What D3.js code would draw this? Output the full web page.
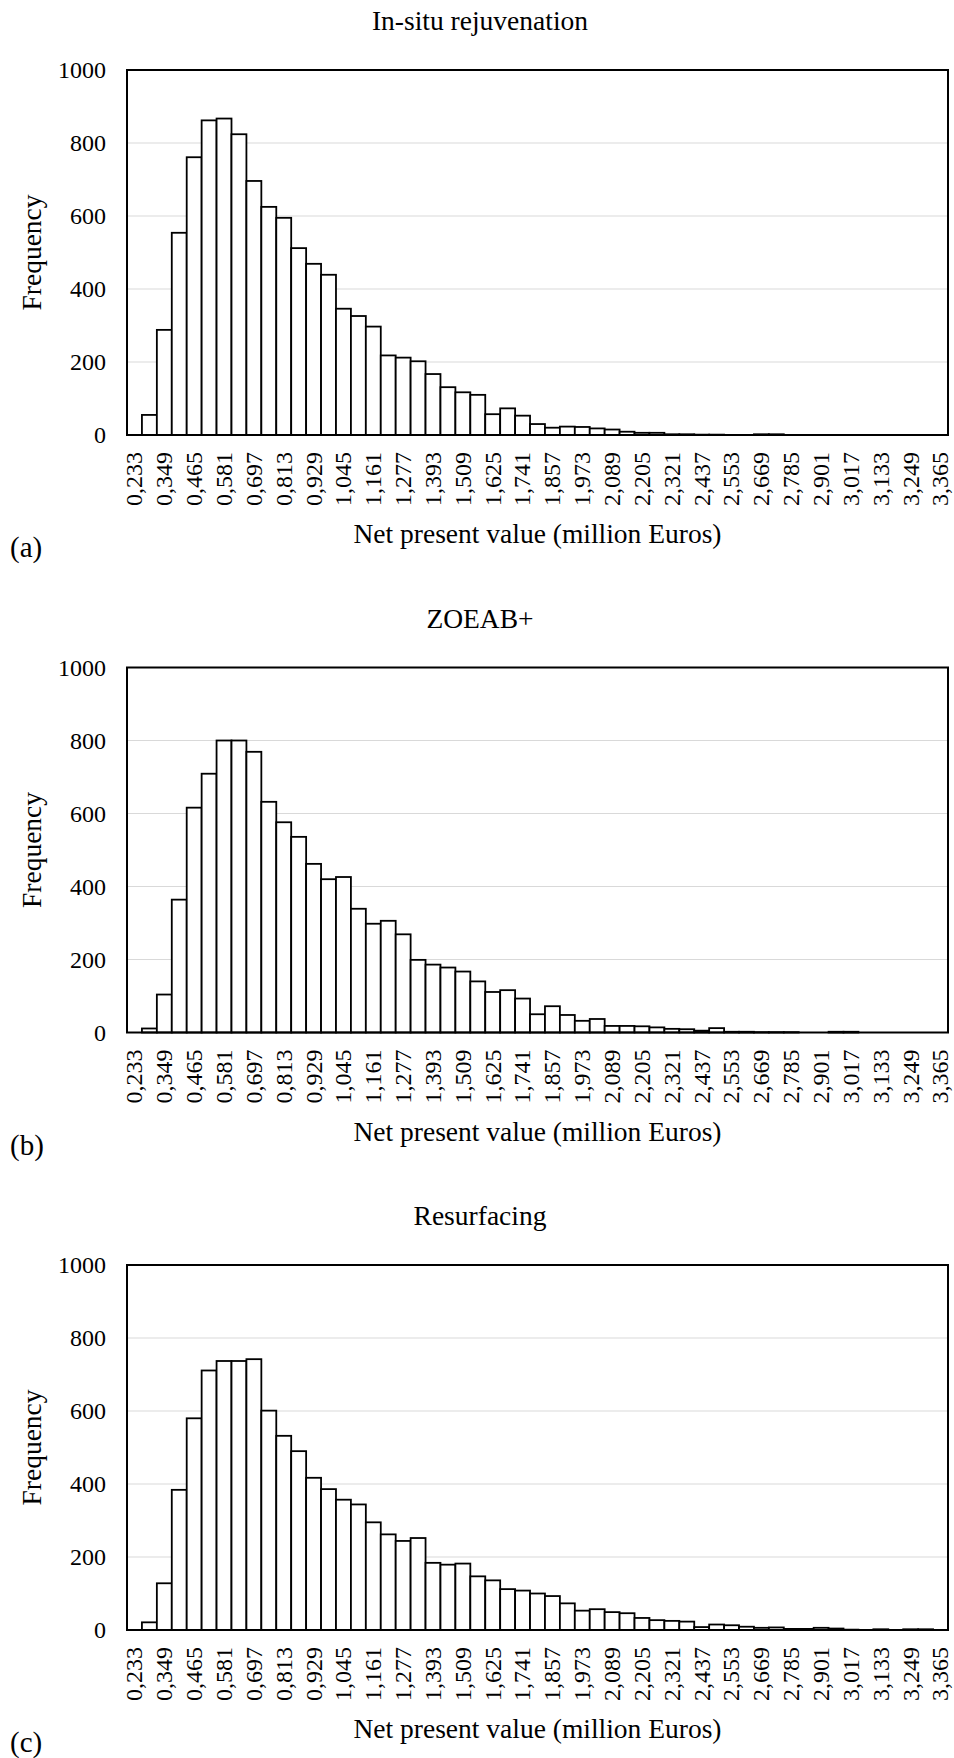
<!DOCTYPE html>
<html>
<head>
<meta charset="utf-8">
<script src="https://cdn.jsdelivr.net/npm/d3@7"></script>
<style>
  body { margin: 0; background: #fff; }
  svg text { font-family: "Liberation Serif", "Times New Roman", serif; fill: #000; }
</style>
</head>
<body>
<div id="chart"></div>
<script>
// histogram bins (NPV, million Euros)
const bins = ["0,233","0,291","0,349","0,407","0,465","0,523","0,581","0,639","0,697","0,755",
  "0,813","0,871","0,929","0,987","1,045","1,103","1,161","1,219","1,277","1,335",
  "1,393","1,451","1,509","1,567","1,625","1,683","1,741","1,799","1,857","1,915",
  "1,973","2,031","2,089","2,147","2,205","2,263","2,321","2,379","2,437","2,495",
  "2,553","2,611","2,669","2,727","2,785","2,843","2,901","2,959","3,017","3,075",
  "3,133","3,191","3,249","3,307","3,365"];

const insitu = [0,55,288,554,761,862,867,824,696,625,
  595,512,469,439,346,326,297,218,212,202,
  167,131,117,110,57,73,53,30,20,23,
  22,18,15,9,6,6,2,2,1,1,
  0,0,2,2,0,0,0,0,0,0,
  0,0,0,0,0];

const zoeab = [0,11,104,364,616,709,800,800,769,632,
  576,536,462,420,426,339,298,306,269,199,
  186,178,167,140,111,116,93,50,72,48,
  32,37,18,18,17,14,10,9,5,12,
  2,2,1,1,1,0,0,2,2,0,
  0,0,0,0,0];

const resurfacing = [0,21,128,384,580,711,737,737,742,601,
  532,490,417,386,357,344,295,262,244,252,
  184,179,182,147,136,112,108,100,93,73,
  53,57,49,46,33,27,25,23,8,15,
  13,9,6,7,3,3,6,4,1,0,
  2,0,2,2,0];

const yTicks = [0, 200, 400, 600, 800, 1000];

const panels = [
  {title: "In-situ rejuvenation", tag: "(a)", values: insitu},
  {title: "ZOEAB+", tag: "(b)", values: zoeab},
  {title: "Resurfacing", tag: "(c)", values: resurfacing}
];

const width = 954, height = 1758;
const left = 127, right = 948, plotH = 365, pitch = 597.5, firstTop = 70;

const svg = d3.select("#chart").append("svg")
  .attr("width", width)
  .attr("height", height);

const x = d3.scaleBand().domain(bins).range([left, right]).paddingInner(0).paddingOuter(0);

panels.forEach((p, i) => {
  const top = firstTop + i * pitch;
  const bottom = top + plotH;
  const y = d3.scaleLinear().domain([0, 1000]).range([bottom, top]);
  const g = svg.append("g");

  // gridlines
  g.selectAll(".grid").data(yTicks.slice(1, -1)).enter().append("line")
    .attr("x1", left).attr("x2", right)
    .attr("y1", d => y(d)).attr("y2", d => y(d))
    .attr("stroke", "#d9d9d9").attr("stroke-width", 1.2);

  // bars
  g.selectAll(".bar").data(p.values.map((v, k) => ({bin: bins[k], v: v})))
    .enter().append("rect")
    .filter(d => d.v > 0)
    .attr("x", d => x(d.bin))
    .attr("y", d => y(d.v))
    .attr("width", x.bandwidth())
    .attr("height", d => y(0) - y(d.v))
    .attr("fill", "#fff")
    .attr("stroke", "#000")
    .attr("stroke-width", 1.8);

  // plot frame
  g.append("rect")
    .attr("x", left).attr("y", top)
    .attr("width", right - left).attr("height", plotH)
    .attr("fill", "none").attr("stroke", "#000").attr("stroke-width", 2);

  // y axis labels
  const yAxis = d3.axisLeft(y).tickValues(yTicks).tickFormat(d3.format("d")).tickSize(0).tickPadding(21);
  const ya = g.append("g").attr("transform", `translate(${left},0)`).call(yAxis);
  ya.select(".domain").remove();
  ya.attr("font-family", null);
  ya.selectAll("text").attr("font-size", 24);

  // x axis labels, every other bin
  const xAxis = d3.axisBottom(x).tickValues(bins.filter((b, k) => k % 2 === 0)).tickSize(0);
  const xa = g.append("g").attr("transform", `translate(0,${bottom})`).call(xAxis);
  xa.select(".domain").remove();
  xa.attr("font-family", null);
  xa.selectAll("text")
    .attr("font-size", 24)
    .attr("text-anchor", "end")
    .attr("transform", "rotate(-90)")
    .attr("x", -17).attr("y", 0).attr("dy", "0.33em");

  // titles
  g.append("text").attr("x", 480).attr("y", top - 40)
    .attr("text-anchor", "middle").attr("font-size", 27.5).text(p.title);
  g.append("text").attr("x", (left + right) / 2).attr("y", bottom + 108)
    .attr("text-anchor", "middle").attr("font-size", 27.5).text("Net present value (million Euros)");
  g.append("text")
    .attr("transform", `translate(41,${(top + bottom) / 2}) rotate(-90)`)
    .attr("text-anchor", "middle").attr("font-size", 27.5).text("Frequency");
  g.append("text").attr("x", 10).attr("y", bottom + 122)
    .attr("font-size", 29).text(p.tag);
});
</script>
</body>
</html>
